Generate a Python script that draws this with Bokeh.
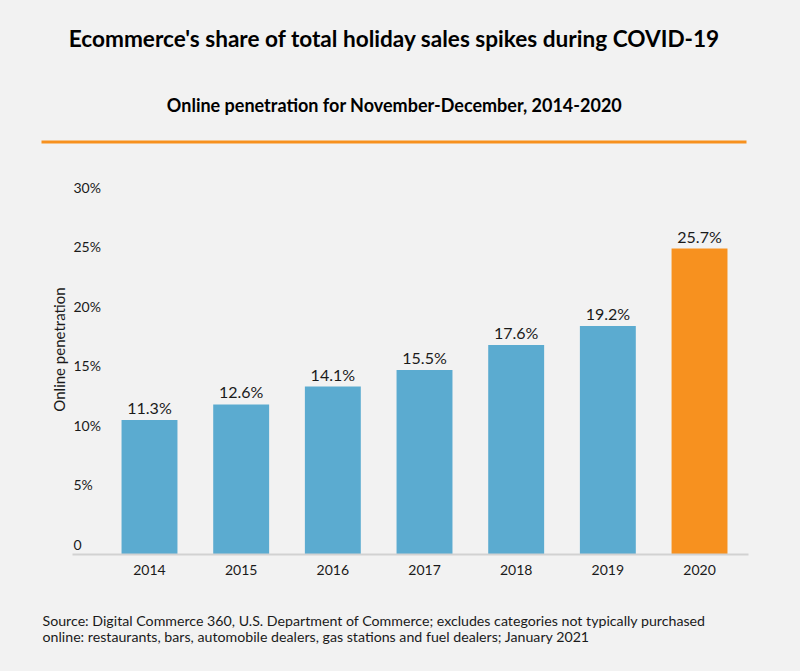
import math
from bokeh.plotting import figure
from bokeh.layouts import column
from bokeh.models import Label, BoxAnnotation, Range1d, FixedTicker
from bokeh.core.properties import value
from bokeh.embed import file_html
from bokeh.resources import INLINE

# ---- data ----
years = ["2014", "2015", "2016", "2017", "2018", "2019", "2020"]
penetration = [11.3, 12.6, 14.1, 15.5, 17.6, 19.2, 25.7]
value_labels = ["11.3%", "12.6%", "14.1%", "15.5%", "17.6%", "19.2%", "25.7%"]
y_ticks = [0, 5, 10, 15, 20, 25, 30]
y_tick_labels = ["0", "5%", "10%", "15%", "20%", "25%", "30%"]

title_text = "Ecommerce's share of total holiday sales spikes during COVID-19"
subtitle_text = "Online penetration for November-December, 2014-2020"
y_axis_title = "Online penetration"
source_lines = [
    "Source: Digital Commerce 360, U.S. Department of Commerce; excludes categories not typically purchased",
    "online: restaurants, bars, automobile dealers, gas stations and fuel dealers; January 2021",
]

# ---- style / layout ----
BG = "#f2f2f2"
BLUE = "#5babd0"
ORANGE = "#f7911f"
TEXT = "#1a1a1a"
FONT_NAME = "Lato"
FONT = value(FONT_NAME)

W = 800
HEAD_H, CHART_H, FOOT_H = 150, 450, 71
F_TOP, F_BOT = 23, 404          # plot-area top / bottom inside chart figure
Y_MAX = 32
PX_PER_CAT = 91.67              # horizontal px per category
FIRST_CENTER = 149              # px of first bar centre
AXIS_LEFT_PX, AXIS_RIGHT_PX = 72, 748

x_start = -FIRST_CENTER / PX_PER_CAT
x_end = x_start + W / PX_PER_CAT
axis_left = (AXIS_LEFT_PX - FIRST_CENTER) / PX_PER_CAT
axis_right = (AXIS_RIGHT_PX - FIRST_CENTER) / PX_PER_CAT
px_per_pct = (F_BOT - F_TOP) / Y_MAX


def panel(height):
    f = figure(width=W, height=height, output_backend="svg", toolbar_location=None,
               x_range=Range1d(0, W), y_range=Range1d(height, 0),
               x_axis_type=None, y_axis_type=None,
               min_border=0, min_border_left=0, min_border_right=0,
               min_border_top=0, min_border_bottom=0)
    f.background_fill_color = BG
    f.border_fill_color = BG
    f.outline_line_color = None
    f.xgrid.visible = False
    f.ygrid.visible = False
    return f


# ---- header ----
head = panel(HEAD_H)
head.add_layout(Label(x=394, y=38, text=title_text, text_align="center",
                      text_baseline="middle", text_font=FONT_NAME,
                      text_font_style="bold", text_font_size="22.6px",
                      text_color="#000000"))
head.add_layout(Label(x=394, y=104, text=subtitle_text, text_align="center",
                      text_baseline="middle", text_font=FONT_NAME,
                      text_font_style="bold", text_font_size="18px",
                      text_color="#000000"))
head.add_layout(BoxAnnotation(left=41, right=746, top=140, bottom=143,
                              fill_color=ORANGE, fill_alpha=1, line_color=None))

# ---- chart ----
xs = list(range(len(years)))
colors = [ORANGE if y == years[-1] else BLUE for y in years]

p = figure(width=W, height=CHART_H, output_backend="svg", toolbar_location=None,
           x_range=Range1d(x_start, x_end), y_range=Range1d(0, Y_MAX),
           y_axis_type=None,
           min_border_left=0, min_border_right=0,
           min_border_top=F_TOP, min_border_bottom=CHART_H - F_BOT)
p.background_fill_color = BG
p.border_fill_color = BG
p.outline_line_color = None
p.xgrid.visible = False
p.ygrid.visible = False

p.vbar(x=xs, top=penetration, width=0.61, color=colors, line_color=None)

p.text(x=xs, y=penetration, text=value_labels, text_align="center",
       text_baseline="bottom", y_offset=-3, text_font=FONT,
       text_font_size="16px", text_color=TEXT)

p.text(x=[axis_left] * len(y_ticks), y=y_ticks, text=y_tick_labels,
       text_align="left", text_baseline="middle", x_offset=1, y_offset=-10,
       text_font=FONT, text_font_size="14px", text_color=TEXT)

# y-axis title (centre at ~349 px on the page)
p.add_layout(Label(x=axis_left, x_offset=-14,
                   y=(F_BOT - (349 - HEAD_H)) / px_per_pct,
                   text=y_axis_title, angle=math.pi / 2, text_align="center",
                   text_baseline="middle", text_font=FONT_NAME,
                   text_font_size="15px", text_color=TEXT))

xa = p.xaxis[0]
xa.bounds = (axis_left, axis_right)
xa.ticker = FixedTicker(ticks=xs)
xa.major_label_overrides = {i: y for i, y in zip(xs, years)}
xa.major_tick_line_color = None
xa.minor_tick_line_color = None
xa.major_tick_out = 0
xa.major_tick_in = 0
xa.axis_line_color = "#d2d2d2"
xa.axis_line_width = 2
xa.major_label_standoff = 10
xa.major_label_text_font = FONT_NAME
xa.major_label_text_font_size = "14px"
xa.major_label_text_color = TEXT

# ---- footer ----
foot = panel(FOOT_H)
for i, line in enumerate(source_lines):
    foot.add_layout(Label(x=42, y=20 + 16 * i, text=line, text_align="left",
                          text_baseline="middle", text_font=FONT_NAME,
                          text_font_size="14.2px", text_color=TEXT))

layout = column(head, p, foot, spacing=0, styles={"background-color": BG})
open("out.html", "w").write(file_html(layout, INLINE))
